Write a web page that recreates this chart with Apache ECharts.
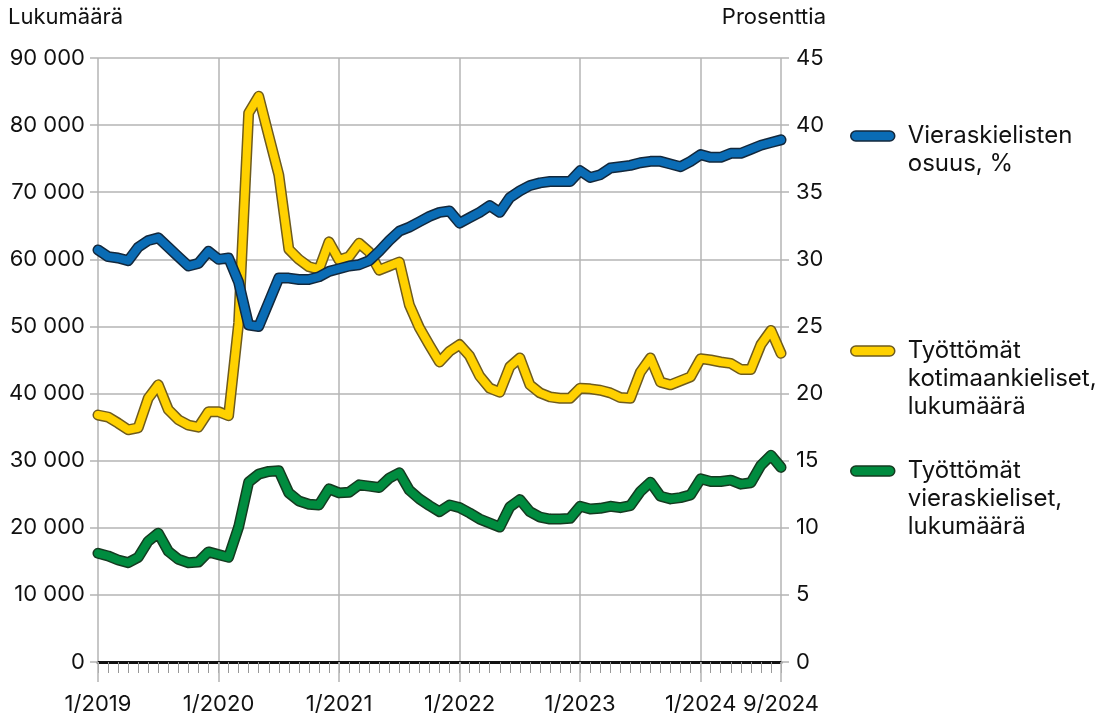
<!DOCTYPE html>
<html>
<head>
<meta charset="utf-8">
<script src="https://cdn.jsdelivr.net/npm/echarts@6/dist/echarts.min.js"></script>
<style>
html,body{margin:0;padding:0;background:#fff;}
#chart{width:1116px;height:713px;}
</style>
</head>
<body>
<div id="chart"></div>
<script>
const months = [
 '1/2019','2/2019','3/2019','4/2019','5/2019','6/2019','7/2019','8/2019','9/2019','10/2019','11/2019','12/2019',
 '1/2020','2/2020','3/2020','4/2020','5/2020','6/2020','7/2020','8/2020','9/2020','10/2020','11/2020','12/2020',
 '1/2021','2/2021','3/2021','4/2021','5/2021','6/2021','7/2021','8/2021','9/2021','10/2021','11/2021','12/2021',
 '1/2022','2/2022','3/2022','4/2022','5/2022','6/2022','7/2022','8/2022','9/2022','10/2022','11/2022','12/2022',
 '1/2023','2/2023','3/2023','4/2023','5/2023','6/2023','7/2023','8/2023','9/2023','10/2023','11/2023','12/2023',
 '1/2024','2/2024','3/2024','4/2024','5/2024','6/2024','7/2024','8/2024','9/2024'
];
const xTickLabels = ['1/2019','1/2020','1/2021','1/2022','1/2023','1/2024','9/2024'];

const shareForeign = [
 30.7,30.2,30.1,29.9,30.9,31.4,31.6,30.9,30.2,29.5,29.7,30.6,
 30.0,30.1,28.3,25.1,25.0,26.8,28.6,28.6,28.5,28.5,28.7,29.1,
 29.3,29.5,29.6,29.9,30.6,31.4,32.1,32.4,32.8,33.2,33.5,33.6,
 32.7,33.1,33.5,34.0,33.5,34.6,35.1,35.5,35.7,35.8,35.8,35.8,
 36.6,36.1,36.3,36.8,36.9,37.0,37.2,37.3,37.3,37.1,36.9,37.3,
 37.8,37.6,37.6,37.9,37.9,38.2,38.5,38.7,38.9
];
const unemployedDomestic = [
 36800,36500,35600,34600,34900,39300,41300,37600,36100,35300,35000,37300,
 37300,36700,50500,81800,84300,78400,72600,61500,60000,58900,58500,62600,
 59900,60400,62400,61100,58400,59000,59600,53200,49800,47200,44700,46300,
 47300,45600,42600,40800,40200,44000,45300,41300,40100,39500,39300,39300,
 40800,40700,40500,40100,39400,39300,43200,45300,41700,41300,41900,42500,
 45200,45000,44700,44500,43600,43600,47300,49400,46000
];
const unemployedForeign = [
 16200,15800,15200,14800,15600,18000,19200,16500,15300,14800,14900,16400,
 16000,15600,20100,26800,28000,28400,28500,25200,24000,23500,23400,25800,
 25200,25300,26400,26200,26000,27400,28200,25600,24300,23300,22400,23400,
 23000,22200,21300,20700,20100,23100,24200,22400,21600,21300,21300,21400,
 23200,22800,22900,23200,23000,23300,25400,26800,24700,24300,24500,24900,
 27300,26900,26900,27100,26500,26700,29300,30800,29000
];

const NAME_SHARE = 'Vieraskielisten osuus, %';
const NAME_DOM = 'Työttömät kotimaankieliset, lukumäärä';
const NAME_FOR = 'Työttömät vieraskieliset, lukumäärä';
const legendLines = {};
legendLines[NAME_SHARE] = ['Vieraskielisten', 'osuus, %'];
legendLines[NAME_DOM] = ['Työttömät', 'kotimaankieliset,', 'lukumäärä'];
legendLines[NAME_FOR] = ['Työttömät', 'vieraskieliset,', 'lukumäärä'];

const FONT = 'Inter, "Noto Sans", sans-serif';
const GRID = '#b4b4b4';
const LH = 28;
const pill = 'path://M5,0 L39,0 A5,5 0 0 1 39,10 L5,10 A5,5 0 0 1 5,0 Z';

function isMajor(i){ return i % 12 === 0 || i === months.length - 1; }
function fmtThousands(v){ return String(v).replace(/\B(?=(\d{3})+(?!\d))/g, ' '); }

const colors = {
  share: {fill:'#0a6cb5', edge:'#13283c'},
  dom:   {fill:'#ffd100', edge:'#6e5b1e'},
  fore:  {fill:'#008c3f', edge:'#153a20'}
};

function pair(name, data, yIdx, c){
  return [
    {type:'line', name: name + ' (reuna)', data: data, yAxisIndex: yIdx, xAxisIndex: 0,
     symbol:'none', silent:true, animation:false,
     lineStyle:{color:c.edge, width:11, cap:'round', join:'round'}, itemStyle:{color:c.edge}},
    {type:'line', name: name, data: data, yAxisIndex: yIdx, xAxisIndex: 0,
     symbol:'none', silent:true, animation:false,
     lineStyle:{color:c.fill, width:8, cap:'round', join:'round'}, itemStyle:{color:c.fill}}
  ];
}

// text is centred on the icon: pad with blank lines above so that the first line sits at the icon
function legendFor(name, iconCenterY, c){
  const lines = legendLines[name];
  const n = lines.length;
  const blanks = n - 1;
  const total = n + blanks;
  return {
    show:true, orient:'vertical', left:850, top: iconCenterY - total * LH / 2, padding:0,
    selectedMode:false, icon: pill, itemWidth:44, itemHeight:10,
    data:[{name:name, itemStyle:{color:c.fill, borderColor:c.edge, borderWidth:1.5}}],
    formatter: function(nm){ return new Array(blanks + 1).join('\n') + legendLines[nm].join('\n'); },
    textStyle:{fontFamily:FONT, fontSize:24, lineHeight:LH, color:'#111', padding:[0,0,0,8]}
  };
}

const gridBox = {left:98, right:335, top:58, bottom:51, containLabel:false, outerBoundsMode:'none'};

const chart = echarts.init(document.getElementById('chart'), null, {renderer:'canvas'});
chart.setOption({
  backgroundColor:'#fff',
  animation:false,
  grid:[ Object.assign({}, gridBox), Object.assign({}, gridBox) ],
  xAxis:[
    {type:'category', gridIndex:0, data:months, boundaryGap:false,
     axisLine:{show:true, lineStyle:{color:'#111', width:3}, onZero:false},
     axisTick:{show:true, interval:0, length:11, lineStyle:{color:'#999', width:1}},
     axisLabel:{show:true, interval:function(i){return isMajor(i);},
       formatter:function(v){ return xTickLabels.indexOf(v) >= 0 ? v : ''; },
       margin:31, fontFamily:FONT, fontSize:22, color:'#111'},
     splitLine:{show:false}},
    {type:'category', gridIndex:1, data:months, boundaryGap:false,
     axisLine:{show:false},
     axisTick:{show:true, interval:function(i){return isMajor(i);}, length:20, lineStyle:{color:GRID, width:1.5}},
     axisLabel:{show:false},
     splitLine:{show:true, interval:function(i){return isMajor(i);}, lineStyle:{color:GRID, width:1.5}}}
  ],
  yAxis:[
    {type:'value', gridIndex:0, min:0, max:90000, interval:10000, position:'left',
     axisLine:{show:false},
     axisTick:{show:true, length:8, lineStyle:{color:GRID, width:1.5}},
     axisLabel:{margin:13, fontFamily:FONT, fontSize:22, color:'#111', formatter:fmtThousands},
     splitLine:{show:true, lineStyle:{color:GRID, width:1.5}}},
    {type:'value', gridIndex:0, min:0, max:45, interval:5, position:'right',
     axisLine:{show:false},
     axisTick:{show:true, length:8, lineStyle:{color:GRID, width:1.5}},
     axisLabel:{margin:15, fontFamily:FONT, fontSize:22, color:'#111'},
     splitLine:{show:false}},
    {type:'value', gridIndex:1, min:0, max:90000, show:false, splitLine:{show:false}}
  ],
  legend:[
    legendFor(NAME_SHARE, 136, colors.share),
    legendFor(NAME_DOM, 351, colors.dom),
    legendFor(NAME_FOR, 471, colors.fore)
  ],
  graphic:[
    {type:'text', left:8, top:6, style:{text:'Lukumäärä', font:'22px ' + FONT, fill:'#111'}},
    {type:'text', right:1116-826, top:6, style:{text:'Prosenttia', font:'22px ' + FONT, fill:'#111'}}
  ],
  series: [].concat(
    pair(NAME_FOR, unemployedForeign, 0, colors.fore),
    pair(NAME_DOM, unemployedDomestic, 0, colors.dom),
    pair(NAME_SHARE, shareForeign, 1, colors.share)
  )
});
</script>
</body>
</html>
